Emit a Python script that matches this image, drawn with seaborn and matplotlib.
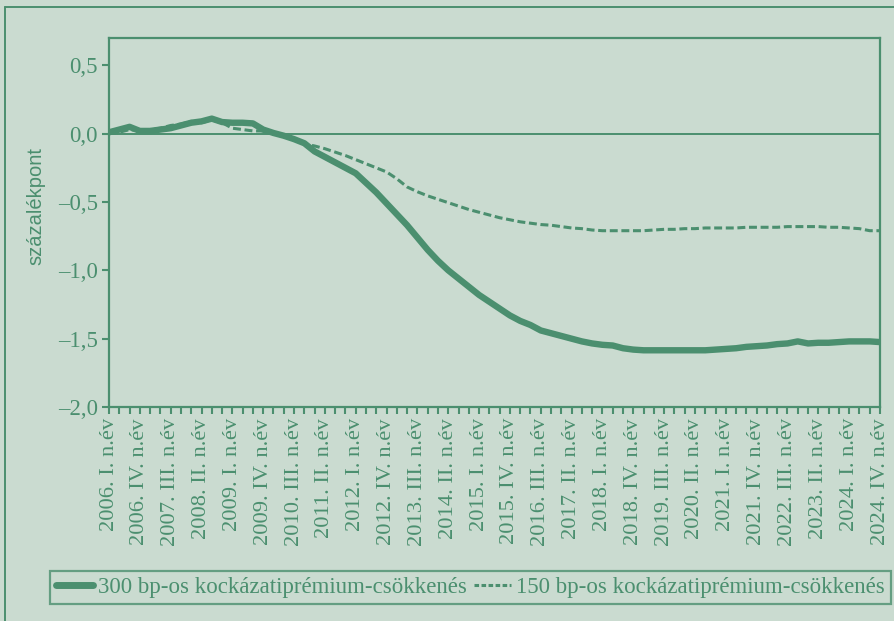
import matplotlib
matplotlib.use('Agg')
import numpy as np
import pandas as pd
import seaborn as sns
import matplotlib.pyplot as plt
from matplotlib.lines import Line2D

GREEN = '#4b8f6f'
BG = '#cadbd0'

# negyedéves adatok, 2006 I. - 2024 IV.
s300 = [0.01, 0.03, 0.05, 0.02, 0.02, 0.03, 0.04, 0.06, 0.08, 0.09,
        0.11, 0.085, 0.08, 0.08, 0.075, 0.03, 0.005, -0.015, -0.04, -0.07,
        -0.13, -0.17, -0.21, -0.25, -0.29, -0.36, -0.43, -0.51, -0.59, -0.67,
        -0.76, -0.85, -0.93, -1.00, -1.06, -1.12, -1.18, -1.23, -1.28, -1.33,
        -1.37, -1.40, -1.44, -1.46, -1.48, -1.50, -1.52, -1.535, -1.545, -1.55,
        -1.57, -1.58, -1.585, -1.585, -1.585, -1.585, -1.585, -1.585, -1.585, -1.58,
        -1.575, -1.57, -1.56, -1.555, -1.55, -1.54, -1.535, -1.52, -1.535, -1.53,
        -1.53, -1.525, -1.52, -1.52, -1.52, -1.525]
s150 = [0.0, 0.01, 0.03, 0.02, 0.03, 0.04, 0.06, 0.07, 0.09, 0.08,
        0.10, 0.08, 0.04, 0.03, 0.02, 0.02, 0.0, -0.02, -0.045, -0.075,
        -0.09, -0.11, -0.135, -0.16, -0.19, -0.22, -0.25, -0.28, -0.33, -0.39,
        -0.425, -0.455, -0.48, -0.505, -0.53, -0.555, -0.575, -0.595, -0.615, -0.63,
        -0.645, -0.655, -0.665, -0.67, -0.68, -0.69, -0.695, -0.705, -0.71, -0.71,
        -0.71, -0.71, -0.71, -0.705, -0.70, -0.70, -0.695, -0.695, -0.69, -0.69,
        -0.69, -0.69, -0.685, -0.685, -0.685, -0.685, -0.68, -0.68, -0.68, -0.68,
        -0.685, -0.685, -0.69, -0.695, -0.71, -0.71]

xlabels = ['2006. I. n.év', '2006. IV. n.év', '2007. III. n.év', '2008. II. n.év',
           '2009. I. n.év', '2009. IV. n.év', '2010. III. n.év', '2011. II. n.év',
           '2012. I. n.év', '2012. IV. n.év', '2013. III. n.év', '2014. II. n.év',
           '2015. I. n.év', '2015. IV. n.év', '2016. III. n.év', '2017. II. n.év',
           '2018. I. n.év', '2018. IV. n.év', '2019. III. n.év', '2020. II. n.év',
           '2021. I. n.év', '2021. IV. n.év', '2022. III. n.év', '2023. II. n.év',
           '2024. I. n.év', '2024. IV. n.év']
yticks = [-2.0, -1.5, -1.0, -0.5, 0.0, 0.5]
yticklabels = ['–2,0', '–1,5', '–1,0', '–0,5', '0,0', '0,5']
names = ['300 bp-os kockázatiprémium-csökkenés',
         '150 bp-os kockázatiprémium-csökkenés']

sns.set_style('white')
plt.rcParams['font.family'] = ['Liberation Serif', 'DejaVu Serif']

df = pd.DataFrame({'q': np.arange(len(s300)), 'a': s300, 'b': s150})

fig = plt.figure(figsize=(8.94, 6.21), dpi=100, facecolor=BG)
ax = fig.add_axes([109/894, 1-407/621, 771/894, 369/621])
ax.set_facecolor(BG)

ax.axhline(0, color=GREEN, lw=1.4, zorder=1)
sns.lineplot(data=df, x='q', y='a', ax=ax, color=GREEN, lw=4.6, zorder=3)
sns.lineplot(data=df, x='q', y='b', ax=ax, color=GREEN, lw=2.2, zorder=3)
ax.lines[-1].set_dashes([2.6, 1.2])

ax.set_xlim(0, len(s300) - 1)
ax.set_ylim(-2.0, 0.7)
ax.set_xticks(np.arange(0, len(s300), 3))
ax.set_xticklabels(xlabels, rotation=90, fontsize=16.2, color=GREEN)
ax.set_xticks(np.arange(len(s300)), minor=True)
ax.set_yticks(yticks)
ax.set_yticklabels(yticklabels, fontsize=16.5, color=GREEN)
ax.tick_params(which='both', direction='out', color=GREEN, width=1.5, length=5, pad=3)
ax.tick_params(axis='x', which='both', bottom=True)
ax.tick_params(axis='y', left=True)
ax.set_xlabel('')
ax.set_ylabel('')
for sp in ax.spines.values():
    sp.set_color(GREEN)
    sp.set_linewidth(1.6)

fig.text(35.5/894, 1-206/621, 'százalékpont', rotation=90, ha='center', va='center',
         color=GREEN, fontsize=14.5, family=['Liberation Sans', 'DejaVu Sans'])

# keret
fig.add_artist(Line2D([5/894, 5/894], [1-7/621, -0.01], color=GREEN, lw=1.4))
fig.add_artist(Line2D([5/894, 1.01], [1-7/621, 1-7/621], color=GREEN, lw=1.4))

h1 = Line2D([], [], color=GREEN, lw=5)
h2 = Line2D([], [], color=GREEN, lw=2.2, dashes=[1.5, 0.8])
leg = fig.legend([h1, h2], names, loc='center', ncol=2,
                 bbox_to_anchor=(470.5/894, 1-587.5/621), fontsize=16.5,
                 frameon=True, fancybox=False, handlelength=1.6,
                 handletextpad=0.25, columnspacing=0.3, borderpad=0.25,
                 borderaxespad=0)
leg.get_frame().set_edgecolor(GREEN)
leg.get_frame().set_linewidth(1.6)
leg.get_frame().set_facecolor(BG)
for t in leg.get_texts():
    t.set_color(GREEN)

fig.savefig('out.png', dpi=100, facecolor=BG)
